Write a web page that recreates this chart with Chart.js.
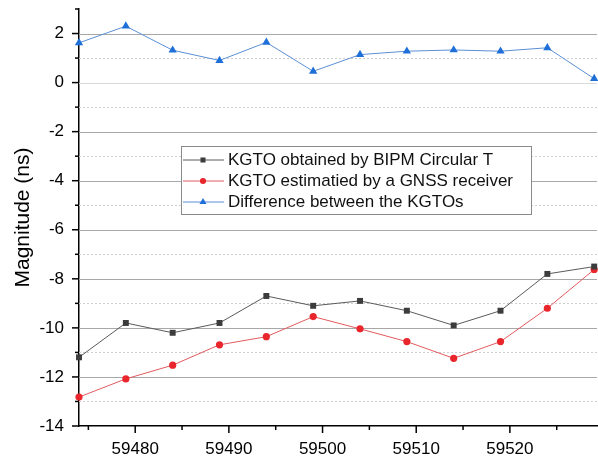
<!DOCTYPE html>
<html>
<head>
<meta charset="utf-8">
<script src="https://cdn.jsdelivr.net/npm/chart.js@4/dist/chart.umd.min.js"></script>
<style>
  html, body { margin: 0; padding: 0; background: #fff; }
  #wrap { width: 598px; height: 456px; position: relative; }
</style>
</head>
<body>
<div id="wrap"><canvas id="c" width="598" height="456"></canvas></div>
<script>
const mjd = [59474, 59479, 59484, 59489, 59494, 59499, 59504, 59509, 59514, 59519, 59524, 59529];
const bipmCircularT = [-11.2, -9.8, -10.2, -9.8, -8.7, -9.1, -8.9, -9.3, -9.9, -9.3, -7.8, -7.5];
const gnssEstimate = [-12.82, -12.08, -11.52, -10.69, -10.36, -9.54, -10.04, -10.56, -11.24, -10.56, -9.2, -7.62];
const difference = [1.62, 2.30, 1.32, 0.90, 1.64, 0.46, 1.14, 1.28, 1.33, 1.28, 1.42, 0.16];
const seriesLabels = ['KGTO obtained by BIPM Circular T', 'KGTO estimatied by a GNSS receiver', 'Difference between the KGTOs'];
const xTickValues = [59480, 59490, 59500, 59510, 59520];
const xMinorTicks = [59475, 59485, 59495, 59505, 59515, 59525];
const yTickValues = [-14, -12, -10, -8, -6, -4, -2, 0, 2];
const yMinorTicks = [-13, -11, -9, -7, -5, -3, -1, 1, 3];

const FONT = "'Liberation Sans', Arial, sans-serif";

function pts(ys) { return mjd.map((x, i) => ({ x: x, y: ys[i] })); }

const decor = {
  id: 'decor',
  beforeDatasetsDraw(chart) {
    const ctx = chart.ctx, a = chart.chartArea, ys = chart.scales.y;
    ctx.save();
    ctx.lineWidth = 1;
    ctx.setLineDash([2, 2]);
    ctx.strokeStyle = '#cfcfcf';
    yMinorTicks.forEach(v => {
      if (v >= ys.max) return;
      const p = Math.round(ys.getPixelForValue(v)) + 0.5;
      ctx.beginPath(); ctx.moveTo(a.left, p); ctx.lineTo(a.right, p); ctx.stroke();
    });
    ctx.setLineDash([]);
    yTickValues.forEach(v => {
      if (v <= ys.min) return;
      const p = Math.round(ys.getPixelForValue(v)) + 0.5;
      ctx.strokeStyle = v === 0 ? '#dadada' : '#a8a8a8';
      ctx.beginPath(); ctx.moveTo(a.left, p); ctx.lineTo(a.right, p); ctx.stroke();
    });
    ctx.restore();
  },
  afterDraw(chart) {
    const ctx = chart.ctx, a = chart.chartArea, xs = chart.scales.x, ys = chart.scales.y;
    ctx.save();
    ctx.strokeStyle = '#000';
    ctx.lineWidth = 1.5;
    yTickValues.forEach(v => {
      const p = ys.getPixelForValue(v);
      ctx.beginPath(); ctx.moveTo(a.left - 7, p); ctx.lineTo(a.left, p); ctx.stroke();
    });
    yMinorTicks.forEach(v => {
      const p = ys.getPixelForValue(v);
      ctx.beginPath(); ctx.moveTo(a.left - 4, p); ctx.lineTo(a.left, p); ctx.stroke();
    });
    xTickValues.forEach(v => {
      const p = xs.getPixelForValue(v);
      ctx.beginPath(); ctx.moveTo(p, a.bottom); ctx.lineTo(p, a.bottom + 7); ctx.stroke();
    });
    xMinorTicks.forEach(v => {
      const p = xs.getPixelForValue(v);
      ctx.beginPath(); ctx.moveTo(p, a.bottom); ctx.lineTo(p, a.bottom + 4); ctx.stroke();
    });
    // legend box
    const bx = 181.5, by = 146.5, bw = 350, bh = 68;
    ctx.fillStyle = '#fff';
    ctx.fillRect(bx, by, bw, bh);
    ctx.lineWidth = 1;
    ctx.strokeStyle = '#8a8a8a';
    ctx.strokeRect(bx, by, bw, bh);
    const rows = [160, 181, 202];
    chart.data.datasets.forEach((ds, i) => {
      const y = rows[i];
      ctx.strokeStyle = ds.borderColor;
      ctx.lineWidth = 1;
      ctx.beginPath(); ctx.moveTo(183, y); ctx.lineTo(224, y); ctx.stroke();
      ctx.fillStyle = ds.pointBackgroundColor;
      ctx.strokeStyle = ds.pointBackgroundColor;
      Chart.helpers.drawPoint(ctx, {
        pointStyle: ds.pointStyle,
        radius: ds.pointRadius * 0.85,
        rotation: 0,
        borderWidth: 0
      }, 203, y);
      ctx.fillStyle = '#111';
      ctx.font = '17px ' + FONT;
      ctx.textBaseline = 'middle';
      ctx.textAlign = 'left';
      ctx.fillText(ds.label, 228, y + 0.5);
    });
    ctx.restore();
  }
};

new Chart(document.getElementById('c'), {
  type: 'line',
  data: {
    datasets: [
      {
        label: seriesLabels[0],
        data: pts(bipmCircularT),
        borderColor: '#5a5a5a',
        backgroundColor: '#3c3c3c',
        pointBackgroundColor: '#3c3c3c',
        pointBorderColor: '#3c3c3c',
        pointStyle: 'rect',
        pointRadius: 4.2,
        borderWidth: 1,
        pointBorderWidth: 0,
        clip: false
      },
      {
        label: seriesLabels[1],
        data: pts(gnssEstimate),
        borderColor: '#e25a5e',
        backgroundColor: '#e8262c',
        pointBackgroundColor: '#e8262c',
        pointBorderColor: '#e8262c',
        pointStyle: 'circle',
        pointRadius: 3.6,
        borderWidth: 1,
        pointBorderWidth: 0,
        clip: false
      },
      {
        label: seriesLabels[2],
        data: pts(difference),
        borderColor: '#5b8fd6',
        backgroundColor: '#1f6fd8',
        pointBackgroundColor: '#1f6fd8',
        pointBorderColor: '#1f6fd8',
        pointStyle: 'triangle',
        pointRadius: 4.8,
        borderWidth: 1,
        pointBorderWidth: 0,
        clip: false
      }
    ]
  },
  options: {
    responsive: false,
    animation: false,
    events: [],
    layout: { autoPadding: false, padding: { top: 9, right: 1, left: 0, bottom: 0 } },
    plugins: { legend: { display: false }, tooltip: { enabled: false } },
    elements: { line: { tension: 0 } },
    scales: {
      x: {
        type: 'linear',
        min: 59474,
        max: 59529.3,
        afterBuildTicks: s => { s.ticks = xTickValues.map(v => ({ value: v })); },
        afterFit: s => { s.height = 30; s.paddingLeft = 0; s.paddingRight = 0; },
        grid: { display: false, drawTicks: false },
        border: { display: true, color: '#000', width: 1.5 },
        ticks: {
          font: { family: FONT, size: 17 },
          color: '#000',
          padding: 13,
          maxRotation: 0,
          callback: v => String(v)
        }
      },
      y: {
        type: 'linear',
        min: -14,
        max: 3,
        afterBuildTicks: s => { s.ticks = yTickValues.map(v => ({ value: v })); },
        afterFit: s => { s.width = 79; s.paddingTop = 0; s.paddingBottom = 0; },
        grid: { display: false, drawTicks: false },
        border: { display: true, color: '#000', width: 1.5 },
        ticks: {
          font: { family: FONT, size: 17 },
          color: '#000',
          padding: 15,
          callback: v => String(v)
        },
        title: {
          display: true,
          text: 'Magnitude (ns)',
          font: { family: FONT, size: 21 },
          color: '#000',
          padding: { top: 11, bottom: 0 }
        }
      }
    }
  },
  plugins: [decor]
});
</script>
</body>
</html>
